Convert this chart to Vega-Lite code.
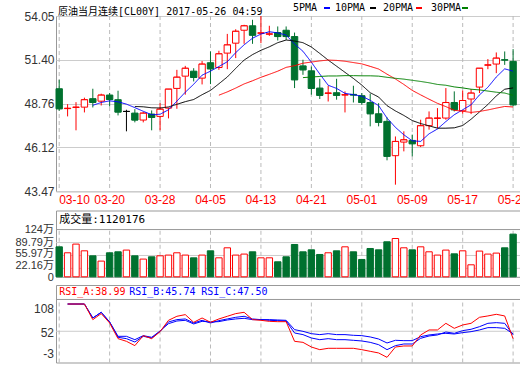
{
 "$schema": "https://vega.github.io/schema/vega-lite/v6.json",
 "background": "#ffffff",
 "padding": {"left": 5, "top": 3, "right": 0, "bottom": 0},
 "spacing": 0.5,
 "config": {
  "view": {"stroke": "#999999", "strokeWidth": 1},
  "axis": {"domain": false, "ticks": false, "labelFont": "Liberation Sans, Noto Sans CJK SC", "labelFontSize": 12, "labelColor": "#333333", "gridColor": "#cccccc", "title": null, "labelOverlap": false},
  "axisY": {"minExtent": 50, "maxExtent": 50, "labelPadding": 2, "labelOverlap": false}
 },
 "datasets": {
  "k": [
   {"d":"03-10","o":49.66,"h":50.20,"l":48.33,"c":48.45,"v":78.7,"m5":null,"m10":null,"m20":null,"m30":null,"ra":null,"rb":null,"rc":null},
   {"d":"03-13","o":48.46,"h":48.73,"l":47.99,"c":48.48,"v":63.0,"m5":null,"m10":null,"m20":null,"m30":null,"ra":100,"rb":100,"rc":100},
   {"d":"03-14","o":48.53,"h":48.85,"l":47.15,"c":48.55,"v":85.8,"m5":null,"m10":null,"m20":null,"m30":null,"ra":100,"rb":100,"rc":100},
   {"d":"03-15","o":48.55,"h":49.12,"l":48.23,"c":49.00,"v":68.2,"m5":null,"m10":null,"m20":null,"m30":null,"ra":100,"rb":100,"rc":100},
   {"d":"03-16","o":49.06,"h":49.66,"l":48.53,"c":48.83,"v":55.1,"m5":48.66,"m10":null,"m20":null,"m30":null,"ra":72.5,"rb":75.4,"rc":75.4},
   {"d":"03-17","o":48.91,"h":49.36,"l":48.65,"c":49.28,"v":41.2,"m5":48.83,"m10":null,"m20":null,"m30":null,"ra":83.1,"rb":85.4,"rc":85.4},
   {"d":"03-20","o":49.28,"h":49.40,"l":48.59,"c":49.01,"v":63.0,"m5":48.93,"m10":null,"m20":null,"m30":null,"ra":66.6,"rb":68.4,"rc":68.4},
   {"d":"03-21","o":49.00,"h":49.54,"l":48.05,"c":48.25,"v":65.6,"m5":48.87,"m10":null,"m20":null,"m30":null,"ra":39.0,"rb":41.4,"rc":43.1},
   {"d":"03-22","o":48.29,"h":48.39,"l":47.09,"c":48.29,"v":70.1,"m5":48.73,"m10":null,"m20":null,"m30":null,"ra":34.3,"rb":39.0,"rc":43.1},
   {"d":"03-23","o":48.19,"h":48.43,"l":47.63,"c":47.77,"v":55.1,"m5":48.52,"m10":48.59,"m20":null,"m30":null,"ra":26.7,"rb":33.1,"rc":37.2},
   {"d":"03-24","o":47.77,"h":48.25,"l":47.63,"c":48.19,"v":46.5,"m5":48.30,"m10":48.57,"m20":null,"m30":null,"ra":44.3,"rb":43.1,"rc":44.3},
   {"d":"03-27","o":48.13,"h":48.35,"l":47.15,"c":47.93,"v":52.5,"m5":48.09,"m10":48.51,"m20":null,"m30":null,"ra":39.0,"rb":40.2,"rc":41.4},
   {"d":"03-28","o":47.99,"h":48.79,"l":47.15,"c":48.43,"v":55.1,"m5":48.12,"m10":48.50,"m20":null,"m30":null,"ra":51.3,"rb":51.9,"rc":52.5},
   {"d":"03-29","o":48.49,"h":49.64,"l":47.87,"c":49.64,"v":57.0,"m5":48.39,"m10":48.56,"m20":null,"m30":null,"ra":71.3,"rb":68.4,"rc":65.4},
   {"d":"03-30","o":49.68,"h":50.80,"l":48.45,"c":50.36,"v":63.0,"m5":48.91,"m10":48.72,"m20":null,"m30":null,"ra":78.4,"rb":72.5,"rc":70.1},
   {"d":"03-31","o":50.42,"h":51.04,"l":49.30,"c":50.90,"v":57.0,"m5":49.45,"m10":48.88,"m20":null,"m30":null,"ra":81.3,"rb":73.7,"rc":71.3},
   {"d":"04-03","o":50.72,"h":50.90,"l":50.10,"c":50.34,"v":49.8,"m5":49.93,"m10":49.01,"m20":null,"m30":null,"ra":67.8,"rb":66.6,"rc":64.9},
   {"d":"04-04","o":50.30,"h":51.33,"l":49.92,"c":51.15,"v":57.0,"m5":50.48,"m10":49.30,"m20":null,"m30":null,"ra":75.4,"rb":71.3,"rc":69.5},
   {"d":"04-05","o":51.23,"h":51.91,"l":49.94,"c":50.86,"v":68.2,"m5":50.72,"m10":49.56,"m20":null,"m30":null,"ra":67.8,"rb":66.6,"rc":68.4},
   {"d":"04-06","o":50.94,"h":51.95,"l":50.80,"c":51.77,"v":49.8,"m5":51.00,"m10":49.96,"m20":49.27,"m30":null,"ra":73.7,"rb":70.7,"rc":69.0},
   {"d":"04-07","o":51.81,"h":52.97,"l":50.84,"c":52.31,"v":76.1,"m5":51.29,"m10":50.37,"m20":49.47,"m30":null,"ra":78.4,"rb":73.7,"rc":71.9},
   {"d":"04-10","o":52.41,"h":53.25,"l":51.51,"c":53.13,"v":57.0,"m5":51.84,"m10":50.89,"m20":49.70,"m30":null,"ra":83.1,"rb":76.6,"rc":73.7},
   {"d":"04-11","o":53.19,"h":53.52,"l":52.37,"c":53.46,"v":59.6,"m5":52.31,"m10":51.39,"m20":49.95,"m30":null,"ra":85.4,"rb":78.4,"rc":74.8},
   {"d":"04-12","o":53.46,"h":53.82,"l":52.37,"c":52.89,"v":65.6,"m5":52.71,"m10":51.72,"m20":50.14,"m30":null,"ra":72.5,"rb":73.7,"rc":72.5},
   {"d":"04-13","o":53.01,"h":54.05,"l":52.41,"c":53.03,"v":49.8,"m5":52.96,"m10":51.98,"m20":50.35,"m30":null,"ra":71.3,"rb":72.5,"rc":72.5},
   {"d":"04-14","o":52.95,"h":53.46,"l":52.85,"c":52.97,"v":49.8,"m5":53.10,"m10":52.19,"m20":50.53,"m30":null,"ra":69.5,"rb":71.3,"rc":72.5},
   {"d":"04-17","o":53.05,"h":53.42,"l":52.57,"c":52.81,"v":39.4,"m5":53.03,"m10":52.44,"m20":50.72,"m30":null,"ra":68.9,"rb":70.7,"rc":71.9},
   {"d":"04-18","o":53.19,"h":53.42,"l":52.61,"c":52.81,"v":52.5,"m5":52.90,"m10":52.60,"m20":50.95,"m30":null,"ra":68.9,"rb":70.1,"rc":71.3},
   {"d":"04-19","o":52.81,"h":53.05,"l":49.70,"c":50.20,"v":84.8,"m5":52.36,"m10":52.54,"m20":51.05,"m30":null,"ra":34.3,"rb":49.0,"rc":54.9},
   {"d":"04-20","o":51.04,"h":51.41,"l":50.50,"c":50.80,"v":65.6,"m5":51.92,"m10":52.44,"m20":51.20,"m30":50.33,"ra":32.5,"rb":46.1,"rc":51.9},
   {"d":"04-21","o":50.74,"h":51.00,"l":49.30,"c":49.68,"v":70.8,"m5":51.26,"m10":52.18,"m20":51.27,"m30":50.37,"ra":24.3,"rb":40.2,"rc":47.8},
   {"d":"04-24","o":49.70,"h":50.26,"l":49.04,"c":49.26,"v":58.6,"m5":50.55,"m10":51.79,"m20":51.34,"m30":50.40,"ra":19.6,"rb":37.2,"rc":46.1},
   {"d":"04-25","o":49.38,"h":49.84,"l":48.89,"c":49.40,"v":63.0,"m5":49.87,"m10":51.39,"m20":51.39,"m30":50.43,"ra":22.0,"rb":39.0,"rc":47.8},
   {"d":"04-26","o":49.42,"h":50.26,"l":49.00,"c":49.26,"v":68.2,"m5":49.68,"m10":51.02,"m20":51.37,"m30":50.43,"ra":22.0,"rb":37.2,"rc":46.1},
   {"d":"04-27","o":49.28,"h":49.50,"l":48.23,"c":49.30,"v":78.7,"m5":49.38,"m10":50.65,"m20":51.32,"m30":50.45,"ra":22.0,"rb":37.2,"rc":46.1},
   {"d":"04-28","o":49.32,"h":49.84,"l":48.83,"c":49.28,"v":65.6,"m5":49.30,"m10":50.28,"m20":51.24,"m30":50.45,"ra":22.0,"rb":36.1,"rc":44.9},
   {"d":"05-01","o":49.24,"h":49.40,"l":48.69,"c":48.83,"v":45.5,"m5":49.21,"m10":49.88,"m20":51.16,"m30":50.44,"ra":19.6,"rb":34.9,"rc":44.3},
   {"d":"05-02","o":48.83,"h":49.36,"l":47.39,"c":48.15,"v":74.3,"m5":48.96,"m10":49.42,"m20":51.01,"m30":50.44,"ra":16.7,"rb":32.5,"rc":42.0},
   {"d":"05-03","o":48.15,"h":48.79,"l":47.39,"c":47.63,"v":70.8,"m5":48.64,"m10":49.16,"m20":50.85,"m30":50.42,"ra":13.8,"rb":28.4,"rc":38.4},
   {"d":"05-04","o":47.69,"h":47.93,"l":45.34,"c":45.58,"v":91.9,"m5":47.89,"m10":48.64,"m20":50.54,"m30":50.35,"ra":6.1,"rb":19.6,"rc":31.4},
   {"d":"05-05","o":45.62,"h":46.78,"l":43.87,"c":46.48,"v":100.5,"m5":47.33,"m10":48.32,"m20":50.25,"m30":50.29,"ra":24.3,"rb":26.7,"rc":36.1},
   {"d":"05-08","o":46.44,"h":47.09,"l":45.88,"c":46.58,"v":76.1,"m5":46.88,"m10":48.05,"m20":49.92,"m30":50.24,"ra":26.1,"rb":29.6,"rc":35.5},
   {"d":"05-09","o":46.54,"h":46.89,"l":45.58,"c":46.34,"v":70.8,"m5":46.52,"m10":47.74,"m20":49.56,"m30":50.17,"ra":26.1,"rb":29.6,"rc":35.5},
   {"d":"05-10","o":46.22,"h":47.79,"l":46.14,"c":47.43,"v":78.7,"m5":46.48,"m10":47.56,"m20":49.29,"m30":50.10,"ra":45.5,"rb":39.6,"rc":42.5},
   {"d":"05-11","o":47.43,"h":48.29,"l":47.19,"c":47.89,"v":65.6,"m5":46.94,"m10":47.42,"m20":49.03,"m30":50.02,"ra":54.3,"rb":43.7,"rc":45.5},
   {"d":"05-12","o":47.87,"h":48.49,"l":47.29,"c":47.89,"v":57.0,"m5":47.23,"m10":47.28,"m20":48.78,"m30":49.92,"ra":54.3,"rb":45.5,"rc":47.2},
   {"d":"05-15","o":47.89,"h":49.70,"l":47.79,"c":48.83,"v":70.1,"m5":47.68,"m10":47.28,"m20":48.58,"m30":49.87,"ra":66.0,"rb":50.7,"rc":48.4},
   {"d":"05-16","o":48.83,"h":49.50,"l":48.29,"c":48.39,"v":60.3,"m5":48.09,"m10":47.30,"m20":48.36,"m30":49.77,"ra":57.2,"rb":48.4,"rc":47.2},
   {"d":"05-17","o":48.33,"h":49.56,"l":48.15,"c":48.95,"v":68.2,"m5":48.39,"m10":47.44,"m20":48.30,"m30":49.71,"ra":63.1,"rb":53.1,"rc":49.6},
   {"d":"05-18","o":49.04,"h":49.64,"l":48.13,"c":49.40,"v":31.5,"m5":48.69,"m10":47.82,"m20":48.23,"m30":49.63,"ra":66.0,"rb":55.5,"rc":51.3},
   {"d":"05-19","o":49.76,"h":50.90,"l":49.40,"c":50.90,"v":67.5,"m5":49.29,"m10":48.26,"m20":48.29,"m30":49.59,"ra":76.6,"rb":60.1,"rc":54.3},
   {"d":"05-22","o":51.08,"h":51.45,"l":50.84,"c":51.10,"v":59.6,"m5":49.75,"m10":48.71,"m20":48.38,"m30":49.52,"ra":79.0,"rb":66.0,"rc":58.4},
   {"d":"05-23","o":51.15,"h":51.85,"l":50.60,"c":51.51,"v":62.2,"m5":50.37,"m10":49.23,"m20":48.49,"m30":49.45,"ra":81.9,"rb":67.2,"rc":58.4},
   {"d":"05-24","o":51.41,"h":51.91,"l":51.10,"c":51.39,"v":76.1,"m5":50.86,"m10":49.63,"m20":48.59,"m30":49.40,"ra":79.0,"rb":66.0,"rc":57.2},
   {"d":"05-25","o":51.31,"h":52.05,"l":48.59,"c":48.69,"v":112.0,"m5":50.72,"m10":49.71,"m20":48.56,"m30":49.26,"ra":38.99,"rb":45.74,"rc":47.50}
  ]
 },
 "vconcat": [
  {
   "width": 464,
   "height": 175.3,
   "title": {"text": "原油当月连续[CL00Y] 2017-05-26 04:59", "anchor": "start", "frame": "group", "font": "DejaVu Sans Mono, Noto Sans CJK SC", "fontSize": 10, "fontWeight": "normal", "color": "#000000", "offset": -7, "dx": 2},
   "data": {"name": "k"},
   "encoding": {
    "x": {"field": "d", "type": "ordinal", "scale": {"type": "band", "paddingInner": 0.24, "paddingOuter": 0.22, "align": 0},
      "axis": {"values": ["03-10","03-20","03-28","04-05","04-13","04-21","05-01","05-09","05-17","05-25"], "labelColor": "#ff0000", "labelAngle": 0, "grid": false, "labelPadding": 3, "bandPosition": 0.5, "labelOverlap": false, "labelAlign": {"condition": {"test": "datum.value === '03-10'", "value": "left"}, "value": "center"}, "minExtent": 16.9, "maxExtent": 16.9, "title": null}}
   },
   "layer": [
    {"transform": [{"filter": {"field": "d", "oneOf": ["03-10","03-20","03-28","04-05","04-13","04-21","05-01","05-09","05-17","05-25"]}}],
     "mark": {"type": "rule", "strokeDash": [4, 3], "color": "#bbbbbb"}, "encoding": {}},
    {"mark": {"type": "rule", "strokeWidth": 1},
     "encoding": {
      "y": {"field": "l", "type": "quantitative", "title": null, "scale": {"domain": [43.47, 54.05], "nice": false, "zero": false},
        "axis": {"values": [43.47, 44.80, 46.12, 47.44, 48.76, 50.08, 51.40, 52.72, 54.05], "format": ".2f", "grid": true, "title": null, "labelOverlap": false}},
      "y2": {"field": "h"},
      "color": {"condition": [{"test": "datum.c > datum.o", "value": "#ff0000"}, {"test": "datum.c < datum.o", "value": "#00712f"}], "value": "#000000"}
     }},
    {"mark": {"type": "bar", "strokeWidth": 1},
     "encoding": {
      "y": {"field": "o", "type": "quantitative", "title": null},
      "y2": {"field": "c"},
      "fill": {"condition": [{"test": "datum.c > datum.o", "value": "#ffffff"}, {"test": "datum.c < datum.o", "value": "#00712f"}], "value": "#000000"},
      "stroke": {"condition": [{"test": "datum.c > datum.o", "value": "#ff0000"}, {"test": "datum.c < datum.o", "value": "#00712f"}], "value": "#000000"}
     }},
    {"mark": {"type": "tick", "thickness": 1, "size": 6.4},
     "encoding": {
      "y": {"field": "c", "type": "quantitative", "title": null},
      "color": {"condition": [{"test": "datum.c > datum.o", "value": "#ff0000"}, {"test": "datum.c < datum.o", "value": "#00712f"}], "value": "#000000"}
     }},
    {"mark": {"type": "line", "strokeWidth": 1},
     "encoding": {
      "y": {"field": "m5", "type": "quantitative", "title": null},
      "strokeDash": {"datum": "5PMA", "type": "nominal",
        "scale": {"domain": ["5PMA", "10PMA", "20PMA", "30PMA"], "range": [[1, 0], [1, 0], [1, 0], [1, 0]]},
        "legend": {"orient": "none", "legendX": 223, "legendY": -13, "direction": "horizontal", "title": null, "labelFont": "DejaVu Sans Mono", "labelFontSize": 10, "labelColor": "#000000", "symbolType": "stroke", "symbolStrokeWidth": 2, "symbolSize": 36, "symbolOpacity": 0, "labelOffset": 4, "columnPadding": 3, "padding": 0, "labelExpr": "datum.label === '5PMA' ? ' 5PMA' : datum.label"}},
      "stroke": {"datum": "s5", "type": "nominal",
        "scale": {"domain": ["s5", "s10", "s20", "s30"], "range": ["#0000ff", "#000000", "#ff0000", "#008000"]},
        "legend": {"orient": "none", "legendX": 266, "legendY": -13, "direction": "horizontal", "title": null, "labelFont": "DejaVu Sans Mono", "labelFontSize": 10, "labelColor": "#000000", "symbolType": "stroke", "symbolStrokeWidth": 2, "symbolSize": 36, "symbolOpacity": 1, "labelOpacity": 0, "labelOffset": 4, "columnPadding": 30, "padding": 0, "labelExpr": "'\u00a0\u00a0\u00a0\u00a0\u00a0'"}}
     }},
    {"mark": {"type": "line", "strokeWidth": 1},
     "encoding": {"y": {"field": "m10", "type": "quantitative", "title": null}, "strokeDash": {"datum": "10PMA", "type": "nominal"}, "stroke": {"datum": "s10", "type": "nominal"}}},
    {"mark": {"type": "line", "strokeWidth": 1},
     "encoding": {"y": {"field": "m20", "type": "quantitative", "title": null}, "strokeDash": {"datum": "20PMA", "type": "nominal"}, "stroke": {"datum": "s20", "type": "nominal"}}},
    {"mark": {"type": "line", "strokeWidth": 1},
     "encoding": {"y": {"field": "m30", "type": "quantitative", "title": null}, "strokeDash": {"datum": "30PMA", "type": "nominal"}, "stroke": {"datum": "s30", "type": "nominal"}}}
   ]
  },
  {
   "width": 464,
   "height": 66.3,
   "layer": [
    {"data": {"values": [{"s": 1}]}, "mark": {"type": "rule", "color": "#cccccc"}, "encoding": {"y": {"datum": 22.16, "type": "quantitative", "scale": {"domain": [0, 174], "nice": false, "zero": true}, "axis": {"labels": false, "grid": false, "ticks": false, "domain": false, "title": null}}}},
    {"data": {"values": [{"s": 1}]}, "mark": {"type": "rule", "color": "#cccccc"}, "encoding": {"y": {"datum": 55.97, "type": "quantitative"}}},
    {"data": {"values": [{"s": 1}]}, "mark": {"type": "rule", "color": "#cccccc"}, "encoding": {"y": {"datum": 89.79, "type": "quantitative"}}},
    {"data": {"name": "k"},
     "transform": [{"filter": {"field": "d", "oneOf": ["03-10","03-20","03-28","04-05","04-13","04-21","05-01","05-09","05-17","05-25"]}}],
     "mark": {"type": "rule", "strokeDash": [4, 3], "color": "#bbbbbb"},
     "encoding": {
      "x": {"field": "d", "type": "ordinal", "scale": {"type": "band", "paddingInner": 0.24, "paddingOuter": 0.22, "align": 0}, "axis": null},
      "y": {"datum": 0, "type": "quantitative"},
      "y2": {"datum": 124}
     }},
    {"data": {"name": "k"},
     "mark": {"type": "bar", "strokeWidth": 1},
     "encoding": {
      "x": {"field": "d", "type": "ordinal"},
      "y": {"field": "v", "type": "quantitative", "title": null, "stack": null},
      "fill": {"condition": {"test": "datum.c >= datum.o", "value": "#ffffff"}, "value": "#00712f"},
      "stroke": {"condition": {"test": "datum.c >= datum.o", "value": "#ff0000"}, "value": "#00712f"}
     }},
    {"data": {"values": [{"s": 1}]},
     "mark": {"type": "rule", "color": "#999999"},
     "encoding": {"y": {"datum": 124, "type": "quantitative"}}},
    {"data": {"values": [{"t": "成交量:1120176"}]},
     "mark": {"type": "text", "align": "left", "baseline": "middle", "font": "DejaVu Sans Mono, Noto Sans CJK SC", "fontSize": 11, "color": "#000000"},
     "encoding": {"x": {"datum": "03-10", "type": "ordinal"}, "y": {"datum": 149, "type": "quantitative"}, "text": {"field": "t"}}},
    {"data": {"values": [{"t": "0"}]},
     "mark": {"type": "text", "align": "right", "baseline": "middle", "dx": -5.2, "dy": 1, "font": "Liberation Sans, Noto Sans CJK SC", "fontSize": 11, "color": "#333333"},
     "encoding": {"x": {"datum": "03-10", "type": "ordinal"}, "y": {"datum": 0, "type": "quantitative"}, "text": {"field": "t"}}},
    {"data": {"values": [{"t": "22.16万"}]},
     "mark": {"type": "text", "align": "right", "baseline": "middle", "dx": -5.2, "dy": -2, "font": "Liberation Sans, Noto Sans CJK SC", "fontSize": 11, "color": "#333333"},
     "encoding": {"x": {"datum": "03-10", "type": "ordinal"}, "y": {"datum": 22.16, "type": "quantitative"}, "text": {"field": "t"}}},
    {"data": {"values": [{"t": "55.97万"}]},
     "mark": {"type": "text", "align": "right", "baseline": "middle", "dx": -5.2, "dy": -1, "font": "Liberation Sans, Noto Sans CJK SC", "fontSize": 11, "color": "#333333"},
     "encoding": {"x": {"datum": "03-10", "type": "ordinal"}, "y": {"datum": 55.97, "type": "quantitative"}, "text": {"field": "t"}}},
    {"data": {"values": [{"t": "89.79万"}]},
     "mark": {"type": "text", "align": "right", "baseline": "middle", "dx": -5.2, "dy": 0, "font": "Liberation Sans, Noto Sans CJK SC", "fontSize": 11, "color": "#333333"},
     "encoding": {"x": {"datum": "03-10", "type": "ordinal"}, "y": {"datum": 89.79, "type": "quantitative"}, "text": {"field": "t"}}},
    {"data": {"values": [{"t": "124万"}]},
     "mark": {"type": "text", "align": "right", "baseline": "middle", "dx": -5.2, "dy": 0, "font": "Liberation Sans, Noto Sans CJK SC", "fontSize": 11, "color": "#333333"},
     "encoding": {"x": {"datum": "03-10", "type": "ordinal"}, "y": {"datum": 124, "type": "quantitative"}, "text": {"field": "t"}}}
   ]
  },
  {
   "width": 464,
   "height": 77.5,
   "layer": [
    {"data": {"values": [{"g": 52}]},
     "mark": {"type": "rule", "color": "#cccccc"},
     "encoding": {"y": {"field": "g", "type": "quantitative", "title": null, "scale": {"domain": [-3, 133.5], "nice": false, "zero": false},
       "axis": {"labels": false, "grid": false, "ticks": false, "domain": false, "title": null}}}},
    {"data": {"name": "k"},
     "transform": [{"filter": {"field": "d", "oneOf": ["03-10","03-20","03-28","04-05","04-13","04-21","05-01","05-09","05-17","05-25"]}}],
     "mark": {"type": "rule", "strokeDash": [4, 3], "color": "#bbbbbb"},
     "encoding": {
      "x": {"field": "d", "type": "ordinal", "scale": {"type": "band", "paddingInner": 0.24, "paddingOuter": 0.22, "align": 0}, "axis": null},
      "y": {"datum": -3, "type": "quantitative"},
      "y2": {"datum": 108}
     }},
    {"data": {"name": "k"},
     "mark": {"type": "line", "strokeWidth": 1, "color": "#0000ff"},
     "encoding": {"x": {"field": "d", "type": "ordinal"}, "y": {"field": "rc", "type": "quantitative", "title": null}}},
    {"data": {"name": "k"},
     "mark": {"type": "line", "strokeWidth": 1, "color": "#0000ff"},
     "encoding": {"x": {"field": "d", "type": "ordinal"}, "y": {"field": "rb", "type": "quantitative", "title": null}}},
    {"data": {"name": "k"},
     "mark": {"type": "line", "strokeWidth": 1, "color": "#ff0000"},
     "encoding": {"x": {"field": "d", "type": "ordinal"}, "y": {"field": "ra", "type": "quantitative", "title": null}}},
    {"data": {"values": [{"s": 1}]},
     "mark": {"type": "rule", "color": "#999999"},
     "encoding": {"y": {"datum": 108, "type": "quantitative"}}},
    {"data": {"values": [{"t": "RSI_A:38.99"}]},
     "mark": {"type": "text", "align": "left", "baseline": "middle", "font": "DejaVu Sans Mono", "fontSize": 10, "color": "#ff0000"},
     "encoding": {"x": {"datum": "03-10", "type": "ordinal"}, "y": {"datum": 120.75, "type": "quantitative"}, "text": {"field": "t"}}},
    {"data": {"values": [{"t": "RSI_B:45.74"}]},
     "mark": {"type": "text", "align": "left", "baseline": "middle", "font": "DejaVu Sans Mono", "fontSize": 10, "color": "#0000ff", "dx": 70},
     "encoding": {"x": {"datum": "03-10", "type": "ordinal"}, "y": {"datum": 120.75, "type": "quantitative"}, "text": {"field": "t"}}},
    {"data": {"values": [{"t": "RSI_C:47.50"}]},
     "mark": {"type": "text", "align": "left", "baseline": "middle", "font": "DejaVu Sans Mono", "fontSize": 10, "color": "#0000ff", "dx": 142},
     "encoding": {"x": {"datum": "03-10", "type": "ordinal"}, "y": {"datum": 120.75, "type": "quantitative"}, "text": {"field": "t"}}},
    {"data": {"values": [{"t": "108"}]},
     "mark": {"type": "text", "align": "right", "baseline": "top", "dx": -5.2, "dy": 5, "font": "Liberation Sans", "fontSize": 12, "color": "#333333"},
     "encoding": {"x": {"datum": "03-10", "type": "ordinal"}, "y": {"datum": 108, "type": "quantitative"}, "text": {"field": "t"}}},
    {"data": {"values": [{"t": "52"}]},
     "mark": {"type": "text", "align": "right", "baseline": "middle", "dx": -5.2, "dy": 2, "font": "Liberation Sans", "fontSize": 12, "color": "#333333"},
     "encoding": {"x": {"datum": "03-10", "type": "ordinal"}, "y": {"datum": 52, "type": "quantitative"}, "text": {"field": "t"}}},
    {"data": {"values": [{"t": "-3"}]},
     "mark": {"type": "text", "align": "right", "baseline": "bottom", "dx": -5.2, "dy": -2, "font": "Liberation Sans", "fontSize": 12, "color": "#333333"},
     "encoding": {"x": {"datum": "03-10", "type": "ordinal"}, "y": {"datum": -3, "type": "quantitative"}, "text": {"field": "t"}}}
   ]
  }
 ]
}
